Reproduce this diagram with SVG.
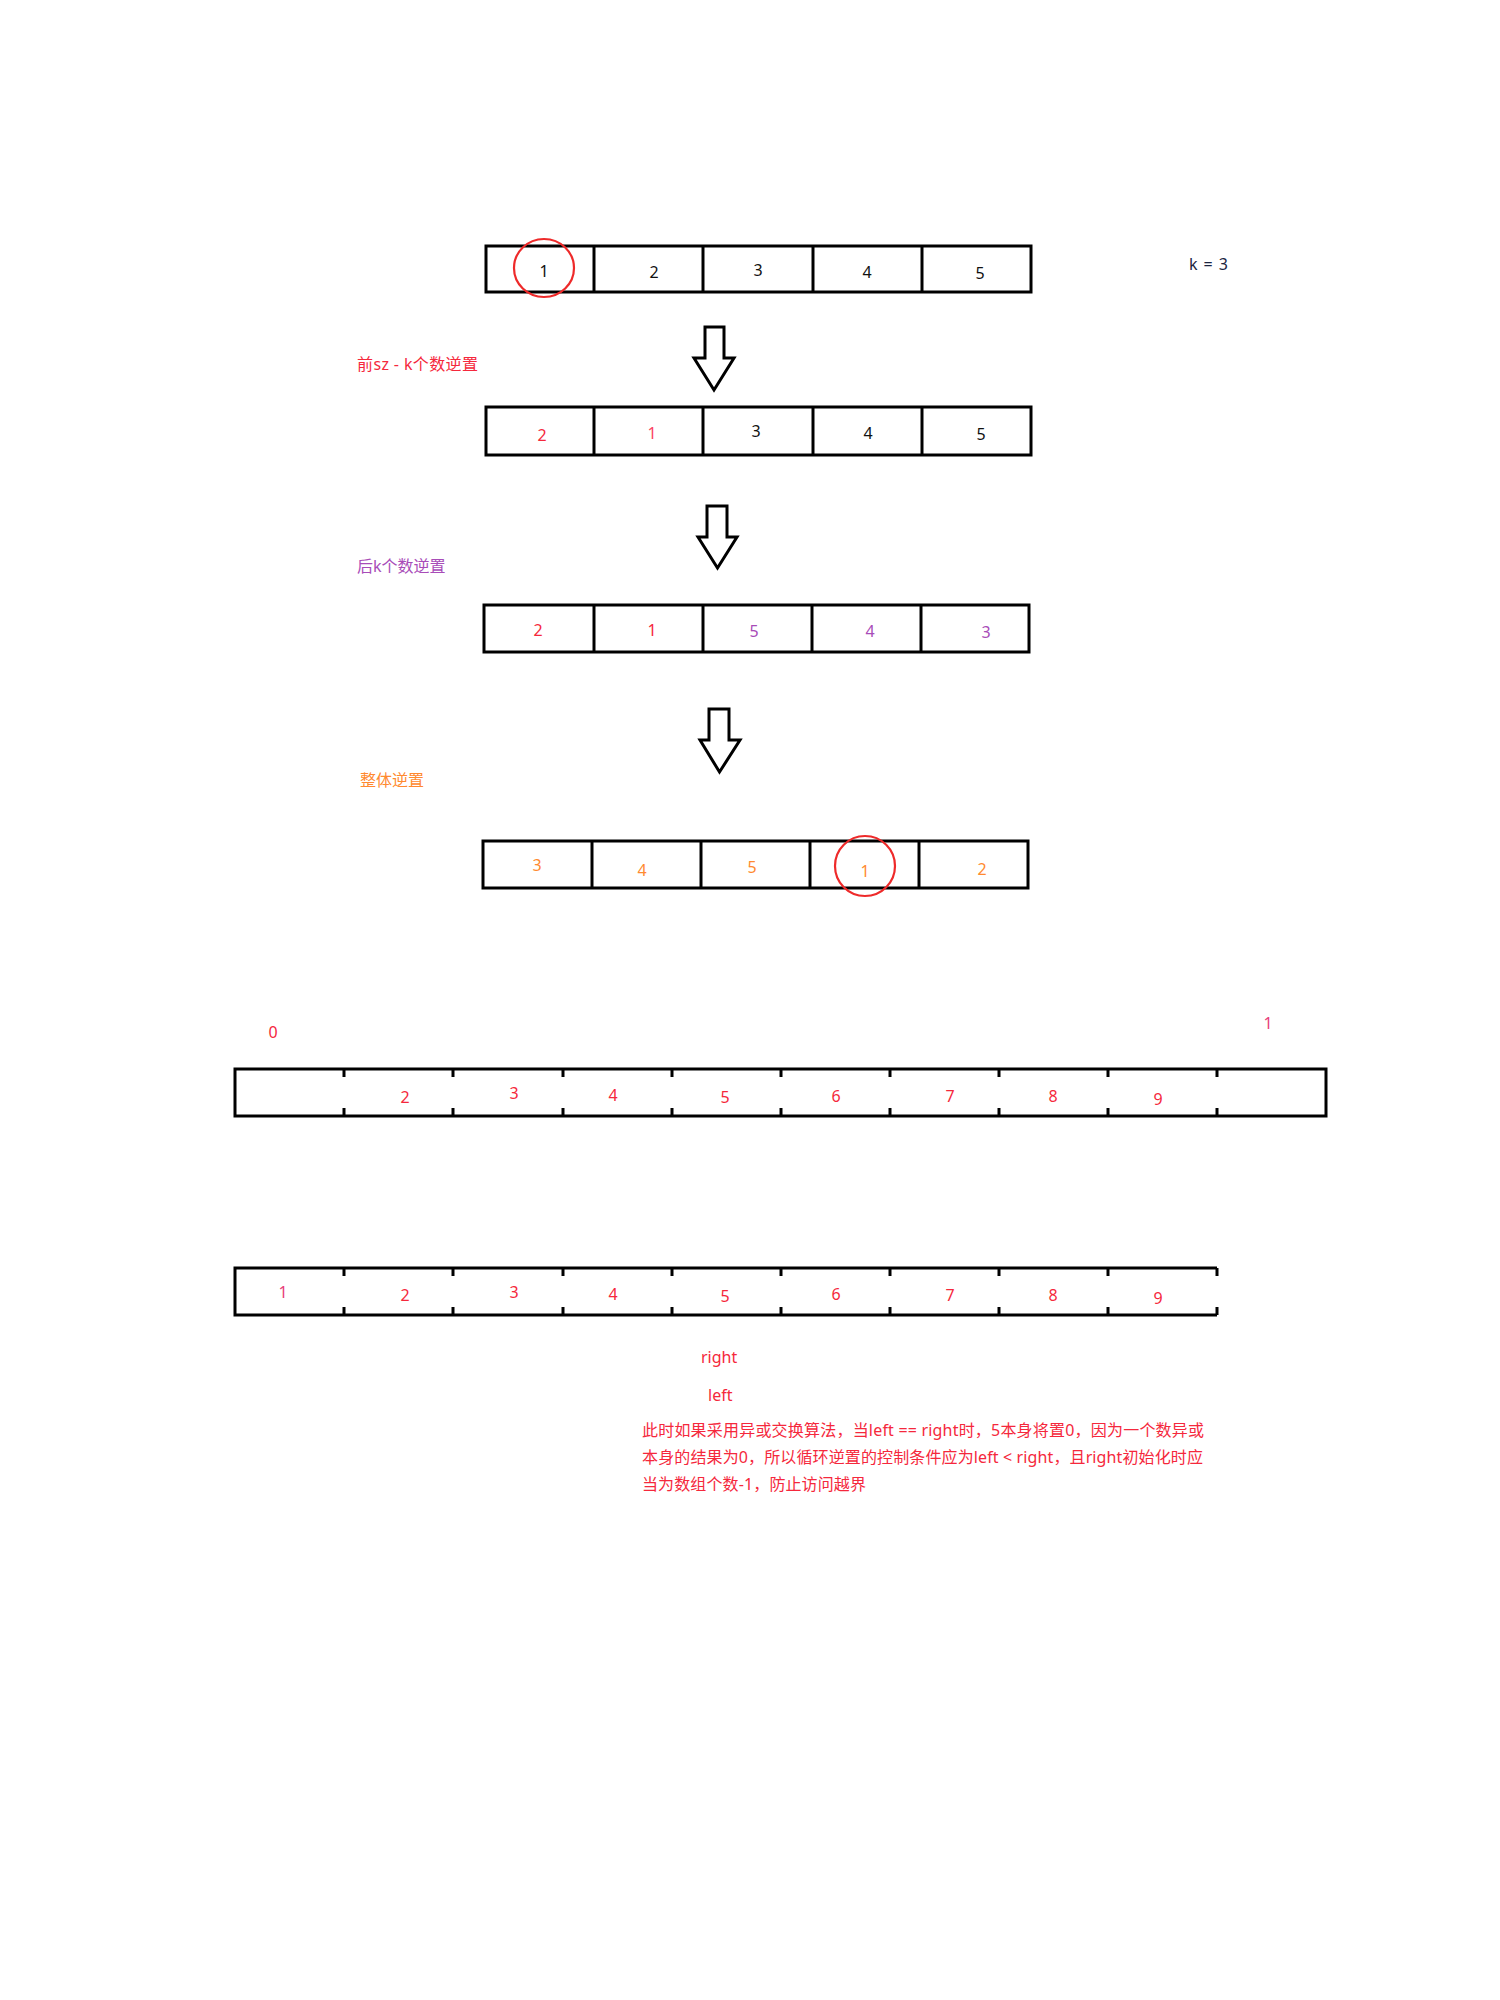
<svg xmlns="http://www.w3.org/2000/svg" width="1500" height="2000" viewBox="0 0 1500 2000">
<style>
  text { font-family: "Noto Sans", "Noto Sans CJK SC", sans-serif; font-size: 16px; }
  .num { font-size: 16px; text-anchor: middle; }
  .box { fill: none; stroke: #000; stroke-width: 3; }
  .div { stroke: #000; stroke-width: 3; }
  .arrow { fill: #fff; stroke: #000; stroke-width: 3; stroke-linejoin: miter; }
  .mark { fill: none; stroke: #ee2a2a; stroke-width: 2.2; }
  .blk { fill: #111; }
  .red { fill: #f5283c; }
  .pnk { fill: #fb4463; }
  .mag { fill: #e8407a; }
  .pur { fill: #a84cb8; }
  .org { fill: #ff8a30; }
  .nav { fill: #1c2541; }
</style>
<rect width="1500" height="2000" fill="#fff"/>

<g id="array1">
  <rect class="box" x="486" y="246" width="545" height="46"/>
  <line class="div" x1="594" y1="246" x2="594" y2="292"/>
  <line class="div" x1="703" y1="246" x2="703" y2="292"/>
  <line class="div" x1="813" y1="246" x2="813" y2="292"/>
  <line class="div" x1="922" y1="246" x2="922" y2="292"/>
  <text class="num blk" x="544" y="277">1</text>
  <text class="num blk" x="654" y="278">2</text>
  <text class="num blk" x="758" y="276">3</text>
  <text class="num blk" x="867" y="278">4</text>
  <text class="num blk" x="980" y="279">5</text>
  <ellipse class="mark" cx="544" cy="268" rx="30" ry="29"/>
</g>
<text id="k-label" class="nav" x="1189" y="270" textLength="39" lengthAdjust="spacing">k = 3</text>

<g id="arrow1"><polygon class="arrow" points="705,327 724,327 724,358 734,358 714,390 694,358 705,358"/></g>
<text id="label1" class="red" x="357" y="370" textLength="121" lengthAdjust="spacing">前sz - k个数逆置</text>

<g id="array2">
  <rect class="box" x="486" y="407" width="545" height="48"/>
  <line class="div" x1="594" y1="407" x2="594" y2="455"/>
  <line class="div" x1="703" y1="407" x2="703" y2="455"/>
  <line class="div" x1="813" y1="407" x2="813" y2="455"/>
  <line class="div" x1="922" y1="407" x2="922" y2="455"/>
  <text class="num red" x="542" y="441">2</text>
  <text class="num pnk" x="652" y="439">1</text>
  <text class="num blk" x="756" y="437">3</text>
  <text class="num blk" x="868" y="439">4</text>
  <text class="num blk" x="981" y="440">5</text>
</g>

<g id="arrow2"><polygon class="arrow" points="707,506 727,506 727,537 737,537 717.5,568 698,537 707,537"/></g>
<text id="label2" class="pur" x="357" y="572">后k个数逆置</text>

<g id="array3">
  <rect class="box" x="484" y="605" width="545" height="47"/>
  <line class="div" x1="594" y1="605" x2="594" y2="652"/>
  <line class="div" x1="703" y1="605" x2="703" y2="652"/>
  <line class="div" x1="812" y1="605" x2="812" y2="652"/>
  <line class="div" x1="921" y1="605" x2="921" y2="652"/>
  <text class="num red" x="538" y="636">2</text>
  <text class="num red" x="652" y="636">1</text>
  <text class="num pur" x="754" y="637">5</text>
  <text class="num pur" x="870" y="637">4</text>
  <text class="num pur" x="986" y="638">3</text>
</g>

<g id="arrow3"><polygon class="arrow" points="709,709 729,709 729,740 740,740 719.5,772 700,740 709,740"/></g>
<text id="label3" class="org" x="360" y="786">整体逆置</text>

<g id="array4">
  <rect class="box" x="483" y="841" width="545" height="47"/>
  <line class="div" x1="592" y1="841" x2="592" y2="888"/>
  <line class="div" x1="701" y1="841" x2="701" y2="888"/>
  <line class="div" x1="810" y1="841" x2="810" y2="888"/>
  <line class="div" x1="919" y1="841" x2="919" y2="888"/>
  <text class="num org" x="537" y="871">3</text>
  <text class="num org" x="642" y="876">4</text>
  <text class="num org" x="752" y="873">5</text>
  <text class="num org" x="865" y="877">1</text>
  <text class="num org" x="982" y="875">2</text>
  <ellipse class="mark" cx="865" cy="866" rx="30" ry="30"/>
</g>

<text class="num red" x="273" y="1038">0</text>
<text class="num mag" x="1268" y="1029">1</text>

<g id="array5">
  <rect class="box" x="235" y="1069" width="1091" height="47"/>
  <path class="div" d="M344,1069v8M344,1116v-8M453,1069v8M453,1116v-8M563,1069v8M563,1116v-8M672,1069v8M672,1116v-8M781,1069v8M781,1116v-8M890,1069v8M890,1116v-8M999,1069v8M999,1116v-8M1108,1069v8M1108,1116v-8M1217,1069v8M1217,1116v-8"/>
  <text class="num red" x="405" y="1103">2</text>
  <text class="num red" x="514" y="1099">3</text>
  <text class="num red" x="613" y="1101">4</text>
  <text class="num red" x="725" y="1103">5</text>
  <text class="num red" x="836" y="1102">6</text>
  <text class="num red" x="950" y="1102">7</text>
  <text class="num red" x="1053" y="1102">8</text>
  <text class="num red" x="1158" y="1105">9</text>
</g>

<g id="array6">
  <path class="box" d="M1217,1268H235V1315H1217"/>
  <path class="div" d="M344,1268v8M344,1315v-8M453,1268v8M453,1315v-8M563,1268v8M563,1315v-8M672,1268v8M672,1315v-8M781,1268v8M781,1315v-8M890,1268v8M890,1315v-8M999,1268v8M999,1315v-8M1108,1268v8M1108,1315v-8M1217,1268v8M1217,1315v-8"/>
  <text class="num mag" x="283" y="1298">1</text>
  <text class="num red" x="405" y="1301">2</text>
  <text class="num red" x="514" y="1298">3</text>
  <text class="num red" x="613" y="1300">4</text>
  <text class="num red" x="725" y="1302">5</text>
  <text class="num red" x="836" y="1300">6</text>
  <text class="num red" x="950" y="1301">7</text>
  <text class="num red" x="1053" y="1301">8</text>
  <text class="num red" x="1158" y="1304">9</text>
</g>

<text id="right" class="red" x="701" y="1363">right</text>
<text id="left" class="red" x="708" y="1401">left</text>
<g id="note" class="red">
  <text x="642" y="1436" textLength="562" lengthAdjust="spacing">此时如果采用异或交换算法，当left == right时，5本身将置0，因为一个数异或</text>
  <text x="642" y="1463" textLength="561" lengthAdjust="spacing">本身的结果为0，所以循环逆置的控制条件应为left &lt; right，且right初始化时应</text>
  <text x="642" y="1490" textLength="224" lengthAdjust="spacing">当为数组个数-1，防止访问越界</text>
</g>
</svg>
